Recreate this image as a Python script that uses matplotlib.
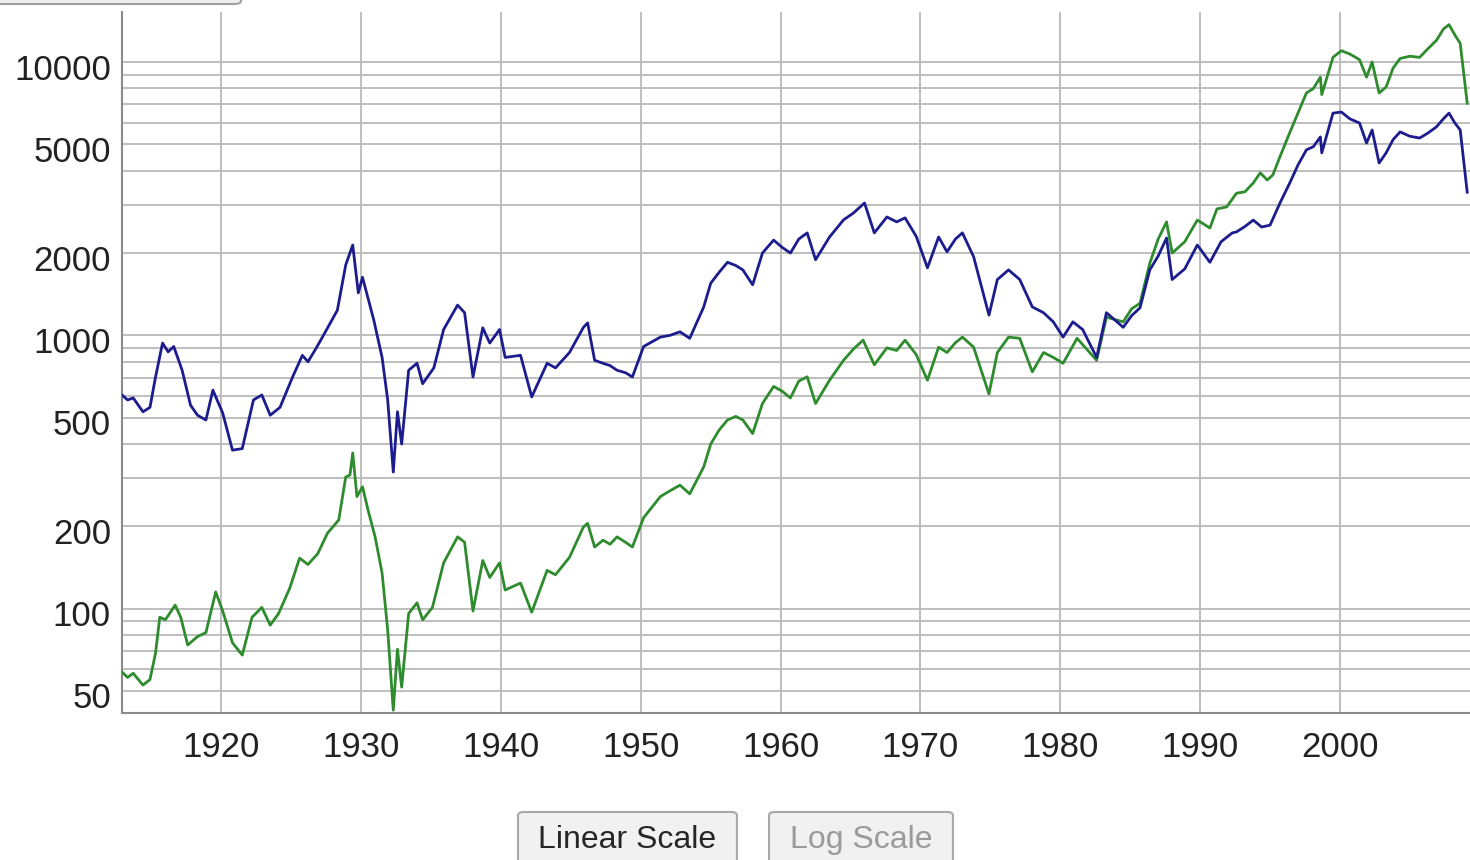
import matplotlib
matplotlib.use("Agg")
import matplotlib.pyplot as plt
import matplotlib.transforms as mtransforms
from matplotlib.patches import FancyBboxPatch
from matplotlib.ticker import FixedLocator, FuncFormatter

# ---- data ----
nominal_years = [1912.9, 1913.3, 1913.7, 1914.4, 1914.9, 1915.3, 1915.6, 1916.0, 1916.7, 1917.1, 1917.6,
                 1918.3, 1918.9, 1919.6, 1920.1, 1920.8, 1921.5, 1922.2, 1922.9, 1923.5, 1924.1, 1924.9,
                 1925.6, 1926.2, 1926.9, 1927.6, 1928.4, 1928.9, 1929.2, 1929.4, 1929.7, 1930.1,
                 1930.5, 1931.0, 1931.5, 1931.9, 1932.3, 1932.6, 1932.9, 1933.4, 1934.0, 1934.4,
                 1935.1, 1935.9, 1936.9, 1937.4, 1938.0, 1938.7, 1939.2, 1939.9, 1940.3, 1941.4,
                 1942.2, 1943.3, 1943.9, 1944.9, 1945.9, 1946.2, 1946.7, 1947.3, 1947.8, 1948.3, 1948.9,
                 1949.4, 1950.2, 1951.4, 1952.1, 1952.8, 1953.5, 1954.5, 1955.0, 1955.6, 1956.2, 1956.8,
                 1957.3, 1958.0, 1958.7, 1959.5, 1960.1, 1960.7, 1961.3, 1961.9, 1962.5, 1963.5, 1964.5,
                 1965.2, 1965.9, 1966.7, 1967.6, 1968.3, 1968.9, 1969.7, 1970.5, 1971.3, 1971.9, 1972.5,
                 1973.0, 1973.8, 1974.9, 1975.5, 1976.3, 1977.1, 1978.0, 1978.8, 1979.5, 1980.2,
                 1981.2, 1982.6, 1983.3, 1984.5, 1985.1, 1985.7, 1986.4, 1987.0, 1987.6, 1988.0, 1988.9,
                 1989.8, 1990.7, 1991.2, 1991.9, 1992.6, 1993.2, 1993.8, 1994.3, 1994.8, 1995.2, 1995.7,
                 1996.4, 1997.0, 1997.6, 1998.1, 1998.6, 1998.7, 1999.5, 2000.1, 2000.7, 2001.4, 2001.9,
                 2002.3, 2002.8, 2003.3, 2003.8, 2004.3, 2005.0, 2005.7, 2006.3, 2006.9, 2007.4, 2007.8,
                 2008.2, 2008.6, 2009.1]
nominal_values = [58.6, 56, 58, 52.5, 55, 68.8, 93, 91, 103, 93, 73.6,
                  79, 81.7, 115, 98, 75, 67.6, 93, 101, 87, 96, 119,
                  153, 145, 159, 189, 211, 303, 308, 371, 257, 279,
                  229, 183, 135, 83.5, 42.5, 71, 51.6, 96, 105, 91,
                  101, 147, 183, 175, 98, 150, 130, 147, 117, 124,
                  97, 138, 133, 154, 199, 205, 168, 178, 172, 183, 175,
                  168, 215, 257, 270, 283, 263, 330, 400, 450, 490, 505,
                  490, 437, 563, 650, 625, 590, 680, 705, 563, 685, 810,
                  890, 960, 780, 900, 880, 960, 850, 685, 905, 865, 940,
                  985, 905, 610, 865, 985, 975, 735, 865, 830, 790,
                  975, 810, 1165, 1120, 1250, 1310, 1835, 2250, 2600, 2000, 2200,
                  2640, 2470, 2900, 2950, 3310, 3350, 3610, 3930, 3700, 3860, 4490,
                  5500, 6500, 7700, 8000, 8800, 7600, 10400, 11000, 10700, 10200, 8800,
                  10000, 7700, 8100, 9500, 10300, 10500, 10400, 11200, 12000, 13200, 13700,
                  12600, 11700, 7070]

real_years = [1912.9, 1913.3, 1913.7, 1914.4, 1914.9, 1915.3, 1915.8, 1916.2, 1916.6, 1917.2, 1917.8,
              1918.3, 1918.9, 1919.4, 1920.1, 1920.8, 1921.5, 1922.3, 1922.9, 1923.5, 1924.2, 1925.1,
              1925.8, 1926.2, 1926.8, 1927.4, 1928.3, 1928.9, 1929.4, 1929.8, 1930.1, 1930.9, 1931.5,
              1931.9, 1932.3, 1932.6, 1932.9, 1933.4, 1934.0, 1934.4, 1935.2, 1935.9, 1936.9,
              1937.4, 1938.0, 1938.7, 1939.2, 1939.9, 1940.3, 1941.4, 1942.2, 1943.3, 1943.9,
              1944.9, 1945.9, 1946.2, 1946.7, 1947.3, 1947.8, 1948.3, 1948.9, 1949.4, 1950.2, 1951.4,
              1952.1, 1952.8, 1953.5, 1954.5, 1955.0, 1955.6, 1956.2, 1956.8, 1957.3, 1958.0, 1958.7,
              1959.5, 1960.1, 1960.7, 1961.3, 1961.9, 1962.5, 1963.5, 1964.5, 1965.2, 1966.0, 1966.7,
              1967.6, 1968.3, 1968.9, 1969.7, 1970.5, 1971.3, 1971.9, 1972.5, 1973.0, 1973.8, 1974.9,
              1975.5, 1976.3, 1977.1, 1978.0, 1978.8, 1979.5, 1980.2, 1980.9, 1981.6, 1982.6, 1983.3,
              1984.5, 1985.1, 1985.7, 1986.4, 1987.0, 1987.6, 1988.0, 1988.9, 1989.8, 1990.7, 1991.5,
              1992.3, 1992.6, 1993.2, 1993.8, 1994.4, 1995.0, 1995.7, 1996.4, 1997.0, 1997.6, 1998.1,
              1998.6, 1998.7, 1999.5, 2000.1, 2000.7, 2001.4, 2001.9, 2002.3, 2002.8, 2003.3, 2003.8,
              2004.3, 2005.0, 2005.7, 2006.3, 2006.9, 2007.4, 2007.8, 2008.2, 2008.6, 2009.1]
real_values = [605, 580, 590, 525, 545, 704, 937, 870, 910, 745, 555,
               510, 490, 630, 520, 380, 385, 580, 605, 510, 545, 704,
               845, 800, 900, 1020, 1235, 1810, 2140, 1430, 1630, 1140, 830,
               580, 316, 525, 400, 745, 790, 665, 760, 1050, 1290,
               1210, 704, 1065, 937, 1050, 830, 845, 595, 790, 760,
               865, 1070, 1110, 810, 790, 775, 745, 730, 704, 910, 985,
               1000, 1030, 975, 1270, 1550, 1700, 1850, 1800, 1735, 1530, 2000,
               2230, 2100, 2000, 2250, 2370, 1890, 2290, 2645, 2800, 3050, 2370,
               2710, 2600, 2690, 2300, 1765, 2290, 2020, 2250, 2370, 1940, 1185,
               1600, 1735, 1600, 1270, 1210, 1120, 985, 1120, 1050, 830, 1210,
               1070, 1180, 1260, 1735, 1950, 2270, 1600, 1750, 2140, 1850, 2200,
               2370, 2390, 2500, 2640, 2490, 2530, 3040, 3600, 4200, 4770, 4900,
               5320, 4650, 6500, 6560, 6200, 5980, 5050, 5640, 4270, 4650, 5200,
               5550, 5350, 5270, 5500, 5790, 6200, 6500, 6000, 5640, 3340]

x_ticks = [1920, 1930, 1940, 1950, 1960, 1970, 1980, 1990, 2000]
y_labelled = [50, 100, 200, 500, 1000, 2000, 5000, 10000]
y_grid = [m * 10 ** k for k in range(1, 5) for m in range(1, 10)]

plt.rcParams['font.family'] = ['Liberation Sans', 'DejaVu Sans']

fig = plt.figure(figsize=(14.7, 8.6), dpi=100)
ax = fig.add_axes([122 / 1470, 1 - 713 / 860, 1 - 122 / 1470, (713 - 12) / 860])

ax.plot(nominal_years, nominal_values, color='#2e8b2e', lw=2.0, zorder=3)
ax.plot(real_years, real_values, color='#1c1c8e', lw=2.0, zorder=3)

ax.set_yscale('log')
ax.set_xlim(1912.9, 2009.3)
ax.set_ylim(41.5, 15240)

ax.yaxis.set_major_locator(FixedLocator(y_grid))
ax.yaxis.set_minor_locator(FixedLocator([]))
ax.yaxis.set_major_formatter(FuncFormatter(
    lambda v, p: f"{int(round(v))}" if int(round(v)) in y_labelled else ""))
ax.set_xticks(x_ticks)
ax.set_xticklabels([str(t) for t in x_ticks])

ax.grid(True, which='major', color='#b9b9b9', lw=1.3, zorder=1)
ax.set_axisbelow(True)

ax.tick_params(axis='both', length=0, labelsize=25, labelcolor='#222222')
ax.tick_params(axis='y', pad=8)
ax.tick_params(axis='x', pad=13)

offset = mtransforms.ScaledTranslation(0, -4.5 / 100, fig.dpi_scale_trans)
for lab in ax.get_yticklabels():
    lab.set_transform(lab.get_transform() + offset)

for s in ['top', 'right']:
    ax.spines[s].set_visible(False)
for s in ['left', 'bottom']:
    ax.spines[s].set_color('#8a8a8a')
    ax.spines[s].set_linewidth(1.5)

# partial button at top-left
fig.patches.append(FancyBboxPatch((-10 / 1470, 1 - 4 / 860), 251 / 1470, 0.05,
                                  boxstyle="round,pad=0,rounding_size=0.004",
                                  transform=fig.transFigure, facecolor='#efefef',
                                  edgecolor='#a0a0a0', lw=1.5, clip_on=False))

# bottom buttons
def button(x0, x1, label, color):
    fig.patches.append(FancyBboxPatch((x0 / 1470, -0.02), (x1 - x0) / 1470, (860 - 812) / 860 + 0.02,
                                      boxstyle="round,pad=0,rounding_size=0.004",
                                      transform=fig.transFigure, facecolor='#f1f1f1',
                                      edgecolor='#a8a8a8', lw=1.5, clip_on=False))
    fig.text((x0 + x1) / 2 / 1470, 1 - 840 / 860, label, ha='center', va='center',
             fontsize=23, color=color)

button(518, 737, 'Linear Scale', '#262626')
button(769, 953, 'Log Scale', '#9a9a9a')

fig.savefig('out.png', dpi=100)
